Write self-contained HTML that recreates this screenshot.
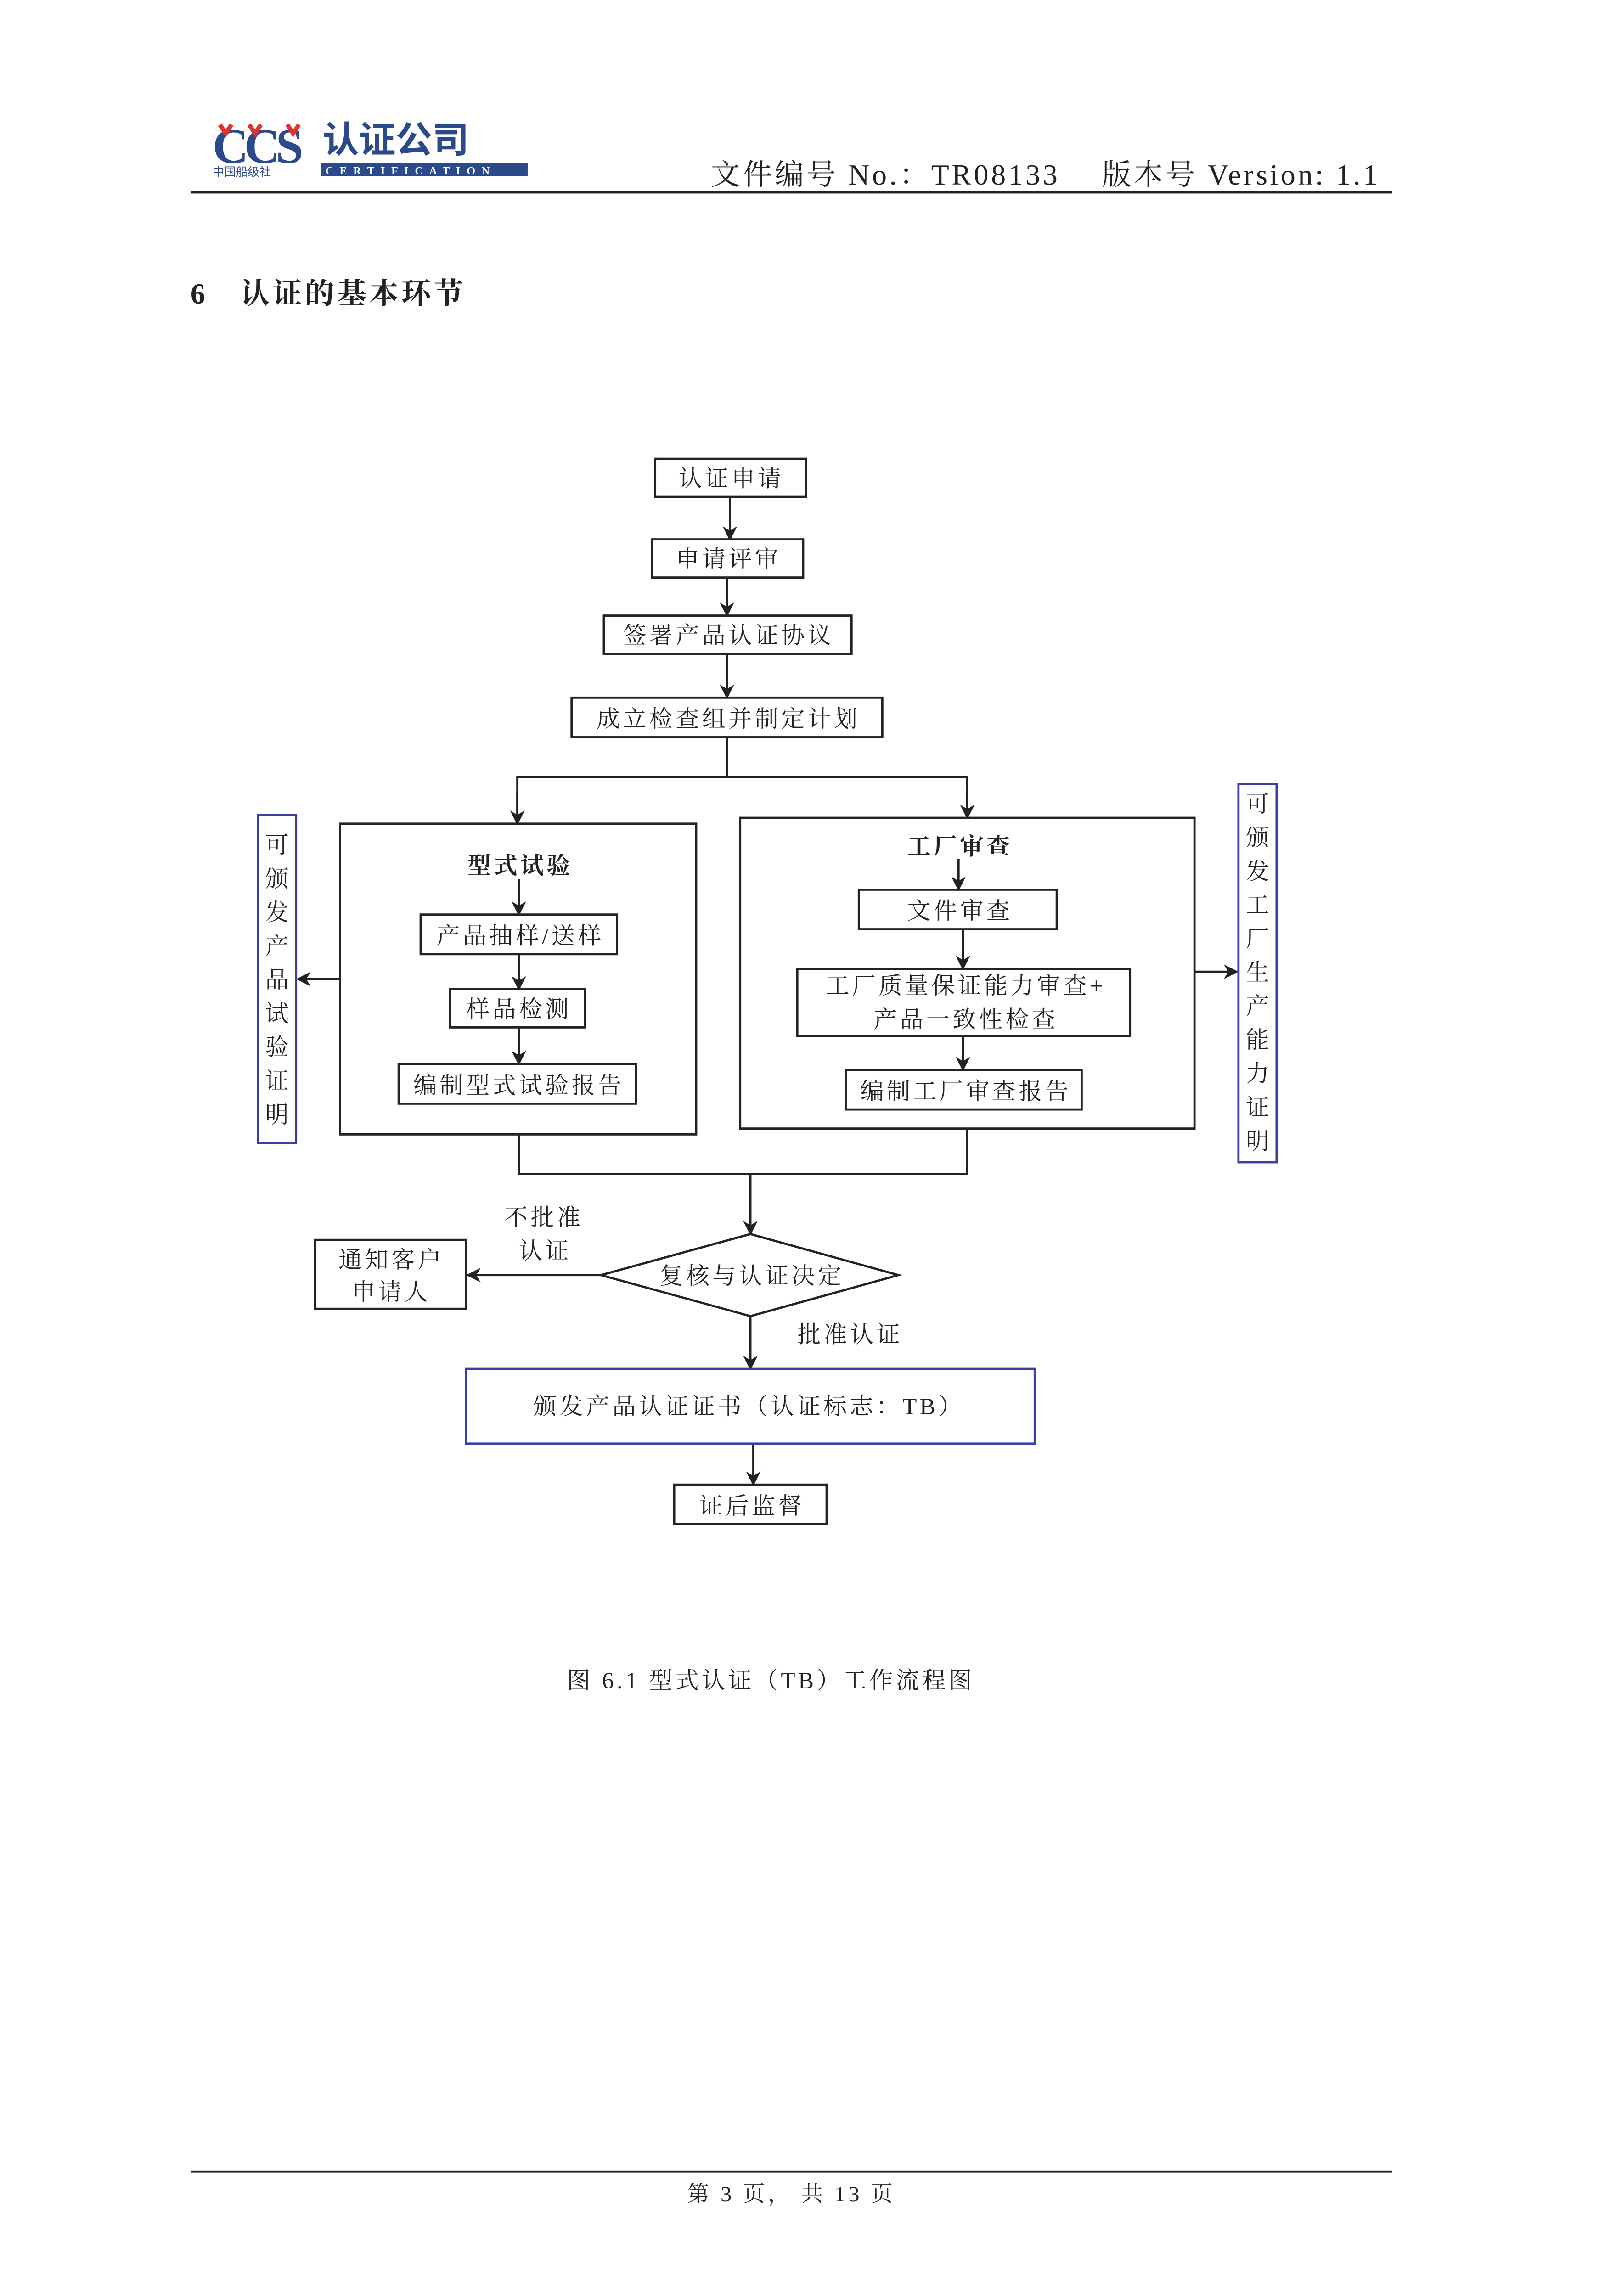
<!DOCTYPE html>
<html><head><meta charset="utf-8"><style>
html,body{margin:0;padding:0;background:#fff;overflow:hidden;width:3482px;height:5041px}
svg{display:block}
text{font-family:"Liberation Serif","Noto Serif CJK SC",serif;fill:#222}
</style></head><body>
<svg width="3482" height="5041" viewBox="0 0 1091 1579.4" xmlns="http://www.w3.org/2000/svg">
<defs><marker id="a" markerWidth="10" markerHeight="10" refX="9" refY="5" orient="auto" markerUnits="userSpaceOnUse"><path d="M0,0 L10,5 L0,10 L3,5 Z" fill="#222"/></marker></defs>
<!-- logo -->
<text x="145" y="111" font-family="Liberation Sans" font-weight="bold" font-size="34" fill="#2b4a8c" style="fill:#2b4a8c;letter-spacing:-3px">CCS</text>
<path d="M150,85 l4,6 l4,-6 M170,85 l4,6 l4,-6 M196,85 l4,6 l4,-6" stroke="#d33" stroke-width="3" fill="none"/>
<text x="220" y="104" font-size="25" font-weight="bold" style="fill:#2b4a8c;font-family:'Noto Sans CJK SC',sans-serif">认证公司</text>
<text x="145" y="120" font-size="8" style="fill:#2b4a8c;font-family:'Noto Sans CJK SC',sans-serif">中国船级社</text>
<rect x="219" y="111" width="141" height="9" fill="#2b4a8c"/>
<text x="222" y="119" font-size="7.5" font-family="Liberation Sans" font-weight="bold" style="fill:#fff;letter-spacing:4.3px">CERTIFICATION</text>
<text x="485" y="126" font-size="20" textLength="455">文件编号 No.：TR08133　 版本号 Version: 1.1</text>
<rect x="130" y="130" width="820" height="2" fill="#222"/>
<text x="130" y="207" font-size="20" font-weight="bold" style="letter-spacing:2px">6　认证的基本环节</text>
<g stroke="#222" stroke-width="1.5" fill="none">
<rect x="447" y="313" width="103" height="26"/>
<rect x="445" y="368" width="103" height="26"/>
<rect x="412" y="420" width="169" height="26"/>
<rect x="390" y="476" width="212" height="27"/>
<rect x="232" y="562" width="243" height="212"/>
<rect x="287" y="624" width="134" height="27"/>
<rect x="307" y="675" width="92" height="26"/>
<rect x="272" y="726" width="162" height="27"/>
<rect x="505" y="558" width="310" height="212"/>
<rect x="586" y="607" width="135" height="27"/>
<rect x="544" y="661" width="227" height="46"/>
<rect x="577" y="730" width="161" height="27"/>
<rect x="215" y="846" width="103" height="47"/>
<rect x="460" y="1013" width="104" height="27"/>
<polygon points="410,870 512,842 613,870 512,898"/>
<line x1="498" y1="339" x2="498" y2="368" marker-end="url(#a)"/>
<line x1="496" y1="394" x2="496" y2="420" marker-end="url(#a)"/>
<line x1="496" y1="446" x2="496" y2="476" marker-end="url(#a)"/>
<polyline points="496,503 496,530"/>
<polyline points="353,562 353,530 660,530 660,558" />
<line x1="353" y1="540" x2="353" y2="562" marker-end="url(#a)"/>
<line x1="660" y1="540" x2="660" y2="558" marker-end="url(#a)"/>
<line x1="354" y1="600" x2="354" y2="624" marker-end="url(#a)"/>
<line x1="354" y1="651" x2="354" y2="675" marker-end="url(#a)"/>
<line x1="354" y1="701" x2="354" y2="726" marker-end="url(#a)"/>
<line x1="654" y1="586" x2="654" y2="607" marker-end="url(#a)"/>
<line x1="657" y1="634" x2="657" y2="661" marker-end="url(#a)"/>
<line x1="657" y1="707" x2="657" y2="730" marker-end="url(#a)"/>
<line x1="232" y1="668" x2="203" y2="668" marker-end="url(#a)"/>
<line x1="815" y1="663" x2="844" y2="663" marker-end="url(#a)"/>
<polyline points="354,774 354,801 660,801 660,770"/>
<line x1="512" y1="801" x2="512" y2="842" marker-end="url(#a)"/>
<line x1="410" y1="870" x2="319" y2="870" marker-end="url(#a)"/>
<line x1="512" y1="898" x2="512" y2="934" marker-end="url(#a)"/>
<line x1="514" y1="985" x2="514" y2="1013" marker-end="url(#a)"/>
</g>
<g stroke="#3a3fa8" stroke-width="1.5" fill="none">
<rect x="176" y="556" width="26" height="224"/>
<rect x="845" y="535" width="26" height="258"/>
<rect x="318" y="934" width="388" height="51"/>
</g>
<g font-size="16" text-anchor="middle" style="letter-spacing:2px">
<text x="499" y="332">认证申请</text>
<text x="497" y="387">申请评审</text>
<text x="497" y="439">签署产品认证协议</text>
<text x="497" y="496">成立检查组并制定计划</text>
<text x="355" y="596" font-weight="bold">型式试验</text>
<text x="355" y="644">产品抽样/送样</text>
<text x="354" y="694">样品检测</text>
<text x="354" y="746">编制型式试验报告</text>
<text x="655" y="583" font-weight="bold">工厂审查</text>
<text x="655" y="627">文件审查</text>
<text x="659" y="678">工厂质量保证能力审查+</text>
<text x="659" y="701">产品一致性检查</text>
<text x="659" y="750">编制工厂审查报告</text>
<text x="267" y="865">通知客户</text>
<text x="267" y="887">申请人</text>
<text x="513" y="876">复核与认证决定</text>
<text x="371" y="836">不批准</text>
<text x="372" y="859">认证</text>
<text x="580" y="916">批准认证</text>
<text x="511" y="965">颁发产品认证证书（认证标志：TB）</text>
<text x="513" y="1033">证后监督</text>
<text x="526" y="1152">图 6.1 型式认证（TB）工作流程图</text>
</g>
<g font-size="16" text-anchor="middle">
<text x="189" y="582">可</text><text x="189" y="605">颁</text><text x="189" y="628">发</text><text x="189" y="651">产</text><text x="189" y="674">品</text><text x="189" y="697">试</text><text x="189" y="720">验</text><text x="189" y="743">证</text><text x="189" y="766">明</text>
<text x="858" y="554">可</text><text x="858" y="577">颁</text><text x="858" y="600">发</text><text x="858" y="623">工</text><text x="858" y="646">厂</text><text x="858" y="669">生</text><text x="858" y="692">产</text><text x="858" y="715">能</text><text x="858" y="738">力</text><text x="858" y="761">证</text><text x="858" y="784">明</text>
</g>
<rect x="130" y="1481" width="820" height="1.5" fill="#222"/>
<text x="540" y="1502" font-size="15" text-anchor="middle" style="letter-spacing:2px">第 3 页， 共 13 页</text>
</svg>
</body></html>
